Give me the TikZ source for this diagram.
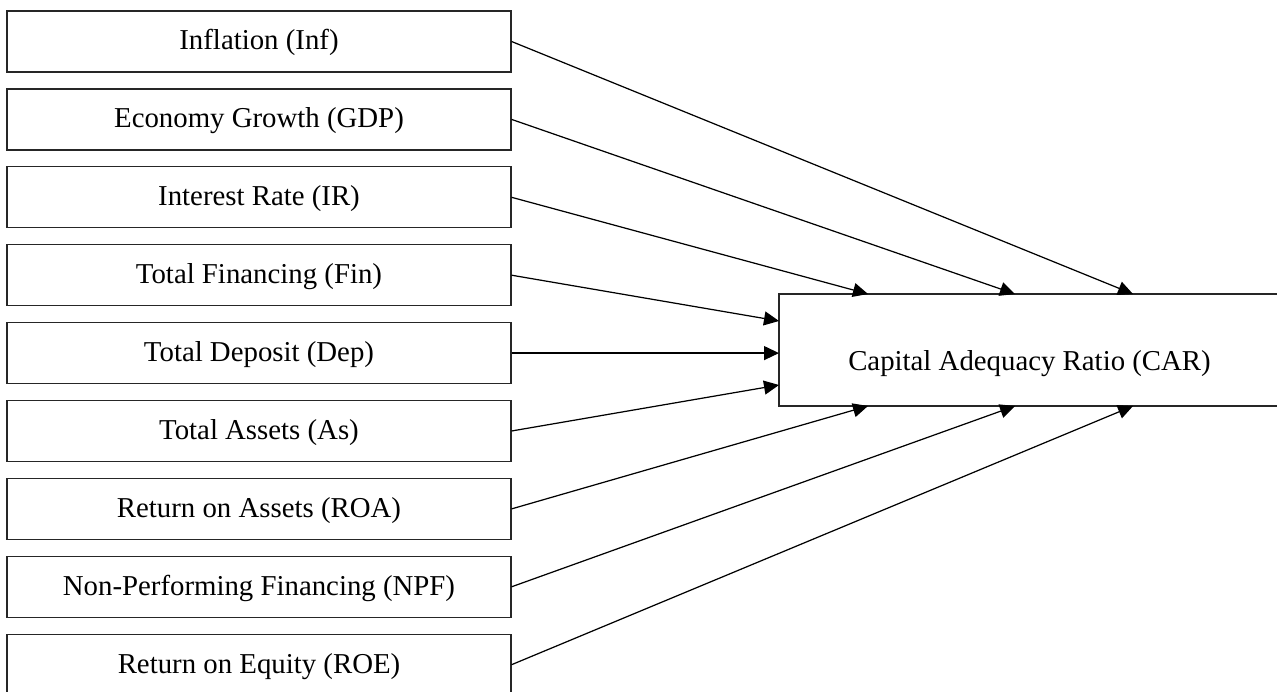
\documentclass[tikz,border=0pt]{standalone}
\usepackage{fontspec}
\setmainfont{Liberation Serif}
\usetikzlibrary{arrows.meta}
\tikzset{
  var/.style={draw=black!85, line width=0.7pt, inner sep=0pt,
    minimum width=10.08cm, minimum height=1.22cm,
    text height=0.46cm, text depth=0.12cm,
    font=\fontsize{16.4}{19}\selectfont},
  target/.style={var, minimum width=10.02cm, minimum height=2.24cm,
    text height=0.94cm},
  link/.style={line width=0.7pt, -{Triangle[length=0.3cm, width=0.28cm]}}
}
\begin{document}
\begin{tikzpicture}[x=0.02cm, y=-0.02cm]
      \useasboundingbox (0,0) rectangle (1277,692);
      \path[every node/.style=var]
        (259,41.5) node (inf){Inflation (Inf)}
        (259,119.4) node (gdp){Economy Growth (GDP)}
        (259,197.3) node (ir){Interest Rate (IR)}
        (259,275.2) node (fin){Total Financing (Fin)}
        (259,353.1) node (dep){Total Deposit (Dep)}
        (259,431.0) node (as){Total Assets (As)}
        (259,508.9) node (roa){Return on Assets (ROA)}
        (259,586.8) node (npf){Non-Performing Financing (NPF)}
        (259,664.7) node (roe){Return on Equity (ROE)};
      \node[target] (car) at (1029.5,350) {Capital Adequacy Ratio (CAR)};
      % points where the arrows meet the CAR box
      \coordinate (n1) at (868,294);
      \coordinate (n2) at (1015,294);
      \coordinate (n3) at (1133,294);
      \coordinate (w1) at (779,321);
      \coordinate (w2) at (779,353.1);
      \coordinate (w3) at (779,385);
      \coordinate (s1) at (868,406);
      \coordinate (s2) at (1015,406);
      \coordinate (s3) at (1133,406);
      \begin{scope}[link]
        \draw (inf.east) to (n3);
        \draw (gdp.east) to (n2);
        \draw (ir.east) to (n1);
        \draw (fin.east) to (w1);
        \draw (dep.east) to (w2);
        \draw (as.east) to (w3);
        \draw (roa.east) to (s1);
        \draw (npf.east) to (s2);
        \draw (roe.east) to (s3);
      \end{scope}
    \end{tikzpicture}
\end{document}
